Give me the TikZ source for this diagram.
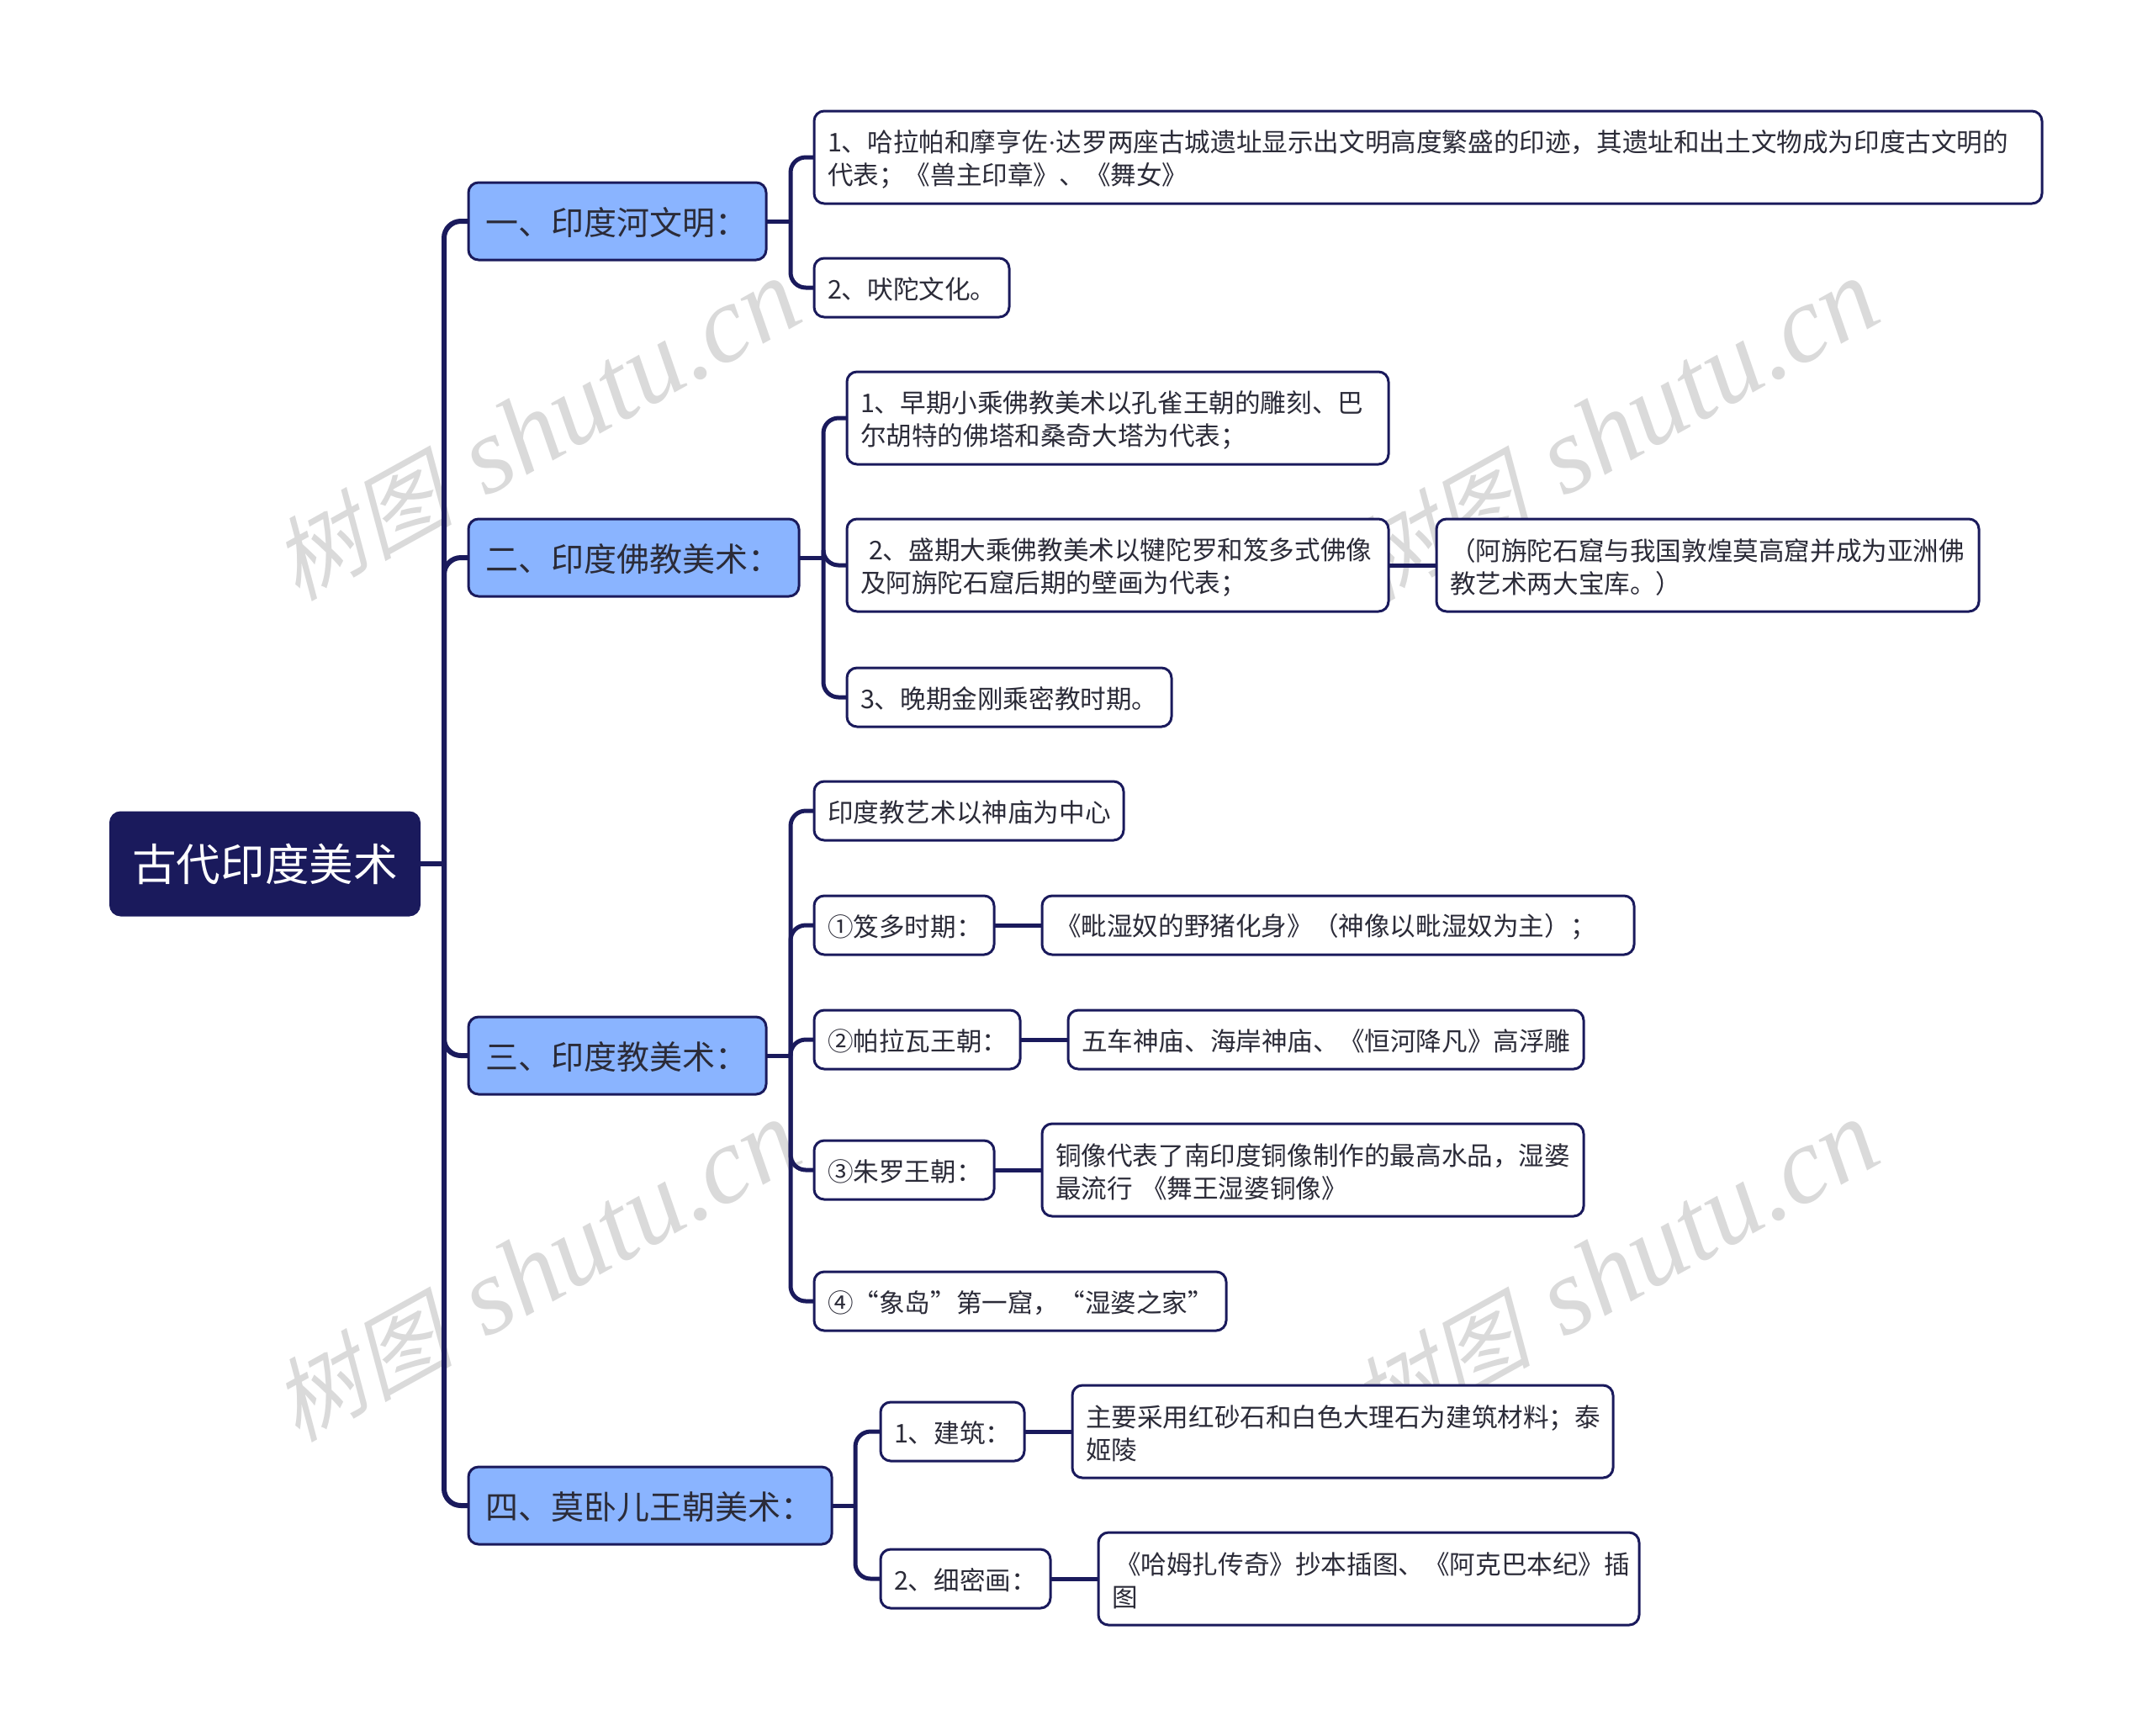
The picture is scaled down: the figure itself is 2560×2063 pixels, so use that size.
\documentclass[tikz,border=0pt]{standalone}
\usepackage{fontspec}
\setmainfont{Noto Sans CJK SC}
\newfontfamily\markcjk[FakeSlant=0.25]{Noto Sans CJK SC}
\newfontfamily\marklatin{Liberation Serif}
\definecolor{navy}{HTML}{1A1A5C}
\definecolor{sky}{HTML}{8AB4FF}
\definecolor{ink}{HTML}{2B2B38}
\definecolor{markgray}{HTML}{DADADA}
\begin{document}
\begin{tikzpicture}[x=0.5pt,y=-0.5pt]
    \tikzstyle{stamp}=[text=markgray,rotate=29,inner sep=0pt]
    \tikzstyle{rootbox}=[anchor=west,draw=navy,fill=navy,text=white,line width=1.5pt,rounded corners=6pt,align=center,
      minimum width=183.5pt,minimum height=61pt,outer sep=0pt,font=\fontsize{26.3}{32}\selectfont]
    \tikzstyle{topic}=[anchor=west,draw=navy,fill=sky,text=ink,line width=1.5pt,rounded corners=6pt,align=left,
      inner xsep=10pt,minimum height=46pt,outer sep=0pt,font=\fontsize{19.5}{24}\selectfont,
      execute at begin node=\rule{0pt}{18.5pt}]
    \tikzstyle{leaf}=[anchor=west,draw=navy,fill=white,text=ink,line width=1.5pt,rounded corners=6pt,align=left,
      inner xsep=8pt,minimum height=35pt,outer sep=0pt,font=\fontsize{15.3}{19.5}\selectfont,
      execute at begin node=\rule{0pt}{15pt}]
    \tikzstyle{leaftwo}=[leaf,minimum height=55pt]
    \tikzstyle{trunk}=[draw=navy,line width=3pt,rounded corners=10pt]
    \tikzstyle{twig}=[draw=navy,line width=2.5pt,rounded corners=9pt]
    \useasboundingbox(0,0)rectangle(2560,2063);
    \foreach \i/\x/\y in {1/637/512,2/1919/512,3/637/1512,4/1919/1512}
      \node[stamp](mark\i)at(\x,\y){\fontsize{54}{54}\markcjk\selectfont 树图\hspace{20pt}\fontsize{65}{65}\marklatin\itshape\selectfont shutu.cn};
    \coordinate(rootfork)at(528,1027);
    \coordinate(forka)at(940,263);
    \coordinate(forkb)at(979,663);
    \coordinate(forkc)at(940,1255);
    \coordinate(forkd)at(1017,1790);
    \draw node[rootbox](root)at(131.5,1027){古代印度美术}
          node[topic,text width=157pt](suba)at(557,263){一、印度河文明：}
          node[topic,text width=176.5pt](subb)at(557,663){二、印度佛教美术：}
          node[topic,text width=157pt](subc)at(557,1255){三、印度教美术：}
          node[topic,text width=196pt](subd)at(557,1790){四、莫卧儿王朝美术：};
    \draw node[leaftwo,text width=714pt](a1)at(968,187){1、哈拉帕和摩亨佐{\marklatin ·}达罗两座古城遗址显示出文明高度繁盛的印迹，其遗址和出土文物成为印度古文明的\\代表；《兽主印章》、《舞女》}
          node[leaf,text width=100pt](a2)at(968,342){2、吠陀文化。}
          node[leaftwo,text width=306pt](b1)at(1007,497){1、早期小乘佛教美术以孔雀王朝的雕刻、巴\\尔胡特的佛塔和桑奇大塔为代表；}
          node[leaftwo,text width=306pt](b2)at(1007,672){\hspace*{5pt}2、盛期大乘佛教美术以犍陀罗和笈多式佛像\\及阿旃陀石窟后期的壁画为代表；}
          node[leaftwo,text width=306.5pt](b2x)at(1708,672){（阿旃陀石窟与我国敦煌莫高窟并成为亚洲佛\\教艺术两大宝库。）}
          node[leaf,text width=177pt](b3)at(1007,829){3、晚期金刚乘密教时期。}
          node[leaf,text width=168pt](c0)at(968,964){印度教艺术以神庙为中心}
          node[leaf,text width=91pt](c1)at(968,1100){①笈多时期：}
          node[leaf,text width=336pt](c1x)at(1239,1100){《毗湿奴的野猪化身》（神像以毗湿奴为主）；}
          node[leaf,text width=106.5pt](c2)at(968,1236){②帕拉瓦王朝：}
          node[leaf,text width=290.5pt](c2x)at(1270,1236){五车神庙、海岸神庙、《恒河降凡》高浮雕}
          node[leaf,text width=91pt](c3)at(968,1391){③朱罗王朝：}
          node[leaftwo,text width=306pt](c3x)at(1239,1391){铜像代表了南印度铜像制作的最高水品，湿婆\\最流行 《舞王湿婆铜像》}
          node[leaf,text width=229pt](c4)at(968,1547){④“象岛”第一窟，“湿婆之家”}
          node[leaf,text width=69.5pt](d1)at(1047,1702){1、建筑：}
          node[leaftwo,text width=305.5pt](d1x)at(1275,1702){主要采用红砂石和白色大理石为建筑材料；泰\\姬陵}
          node[leaf,text width=85pt](d2)at(1047,1877){2、细密画：}
          node[leaftwo,text width=305.5pt](d2x)at(1306,1877){\hspace*{2pt}《哈姆扎传奇》抄本插图、《阿克巴本纪》插\\图};
    \draw[trunk](root.east)--(rootfork);
    \foreach \n in {suba,subb,subc,subd}
      \draw[trunk](rootfork)|-(\n.west);
    \draw[twig](suba.east)--(forka);
    \foreach \n in {a1,a2}
      \draw[twig](forka)|-(\n.west);
    \draw[twig](subb.east)--(forkb);
    \foreach \n in {b1,b2,b3}
      \draw[twig](forkb)|-(\n.west);
    \draw[twig](subc.east)--(forkc);
    \foreach \n in {c0,c1,c2,c3,c4}
      \draw[twig](forkc)|-(\n.west);
    \draw[twig](subd.east)--(forkd);
    \foreach \n in {d1,d2}
      \draw[twig](forkd)|-(\n.west);
    \draw[twig](b2)--(b2x);
    \draw[twig](c1)--(c1x);
    \draw[twig](c2)--(c2x);
    \draw[twig](c3)--(c3x);
    \draw[twig](d1)--(d1x);
    \draw[twig](d2)--(d2x);
\end{tikzpicture}
\end{document}
